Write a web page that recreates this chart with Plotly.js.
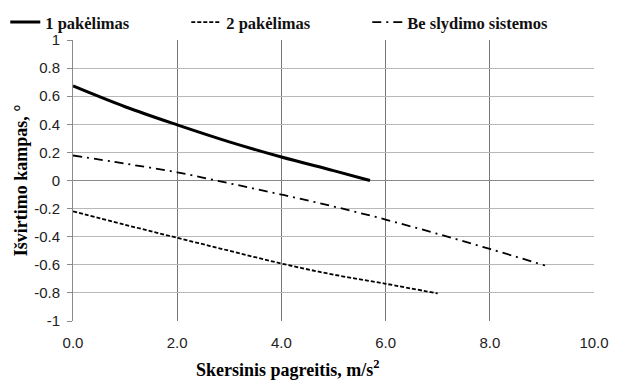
<!DOCTYPE html>
<html>
<head>
<meta charset="utf-8">
<script src="https://cdn.plot.ly/plotly-3.0.1.min.js"></script>
<style>html,body{margin:0;padding:0;background:#fff;}#chart{width:619px;height:380px;}</style>
</head>
<body>
<div id="chart"></div>
<script>
var seriesNames = ["1 pakėlimas", "2 pakėlimas", "Be slydimo sistemos"];
var x1 = [0, 1, 2, 3, 4, 5, 5.7];
var y1 = [0.673, 0.525, 0.396, 0.275, 0.167, 0.07, 0.0];
var x2 = [0, 1, 2, 3, 4, 5, 6, 7];
var y2 = [-0.219, -0.315, -0.408, -0.50, -0.591, -0.67, -0.735, -0.804];
var x3 = [0, 1, 2, 3, 4, 5, 6, 7, 8, 9.06];
var y3 = [0.178, 0.12, 0.058, -0.02, -0.10, -0.185, -0.278, -0.38, -0.487, -0.605];
var yTickVals = [1, 0.8, 0.6, 0.4, 0.2, 0, -0.2, -0.4, -0.6, -0.8, -1];
var yTickText = ["1", "0.8", "0.6", "0.4", "0.2", "0", "-0.2", "-0.4", "-0.6", "-0.8", "-1"];
var xTickVals = [0, 2, 4, 6, 8, 10];
var xTickText = ["0.0", "2.0", "4.0", "6.0", "8.0", "10.0"];
var xTitle = "Skersinis pagreitis, m/s<sup>2</sup>";
var yTitle = "Išvirtimo kampas, °";

var traces = [
  {x: x1, y: y1, name: seriesNames[0], mode: "lines", line: {color: "#000", width: 3, shape: "spline"}},
  {x: x2, y: y2, name: seriesNames[1], mode: "lines", line: {color: "#000", width: 1.8, dash: "4px,2px", shape: "spline"}},
  {x: x3, y: y3, name: seriesNames[2], mode: "lines", line: {color: "#000", width: 1.8, dash: "9px,5px,2px,5px", shape: "spline"}}
];

var titleFont = {family: "Liberation Serif", size: 18, color: "#000", weight: "bold"};
var tickFont = {family: "Liberation Sans", size: 15, color: "#222"};

var layout = {
  width: 619, height: 380,
  margin: {l: 73, r: 25, t: 40, b: 59, autoexpand: false},
  paper_bgcolor: "#fff", plot_bgcolor: "#fff",
  showlegend: true,
  legend: {orientation: "h", x: -0.13, xanchor: "left", y: 1.125, yanchor: "top",
           font: {family: "Liberation Serif", size: 16.5, color: "#111", weight: "bold"},
           entrywidth: 136, itemwidth: 30, bgcolor: "rgba(0,0,0,0)"},
  xaxis: {range: [0, 10], tickvals: xTickVals, ticktext: xTickText, showgrid: true,
          gridcolor: "#767676", gridwidth: 1, zeroline: false, showline: false,
          ticks: "", ticklabelstandoff: 11, tickfont: tickFont},
  yaxis: {range: [-1, 1], tickvals: yTickVals, ticktext: yTickText, showgrid: true,
          gridcolor: "#b8b8b8", gridwidth: 1, zeroline: true, zerolinecolor: "#8a8a8a", zerolinewidth: 1.2,
          showline: true, linecolor: "#8a8a8a", linewidth: 1, ticks: "outside", ticklen: 5, tickcolor: "#8a8a8a",
          ticklabelstandoff: 4, tickfont: tickFont,
          title: {text: yTitle, standoff: 1, font: titleFont}},
  annotations: [
    {text: xTitle, xref: "paper", yref: "paper", x: (287 - 73) / 521, y: (321 - 368) / 281,
     xanchor: "center", yanchor: "middle", showarrow: false, font: titleFont}
  ]
};
Plotly.newPlot("chart", traces, layout, {displayModeBar: false, staticPlot: true});
</script>
</body>
</html>
